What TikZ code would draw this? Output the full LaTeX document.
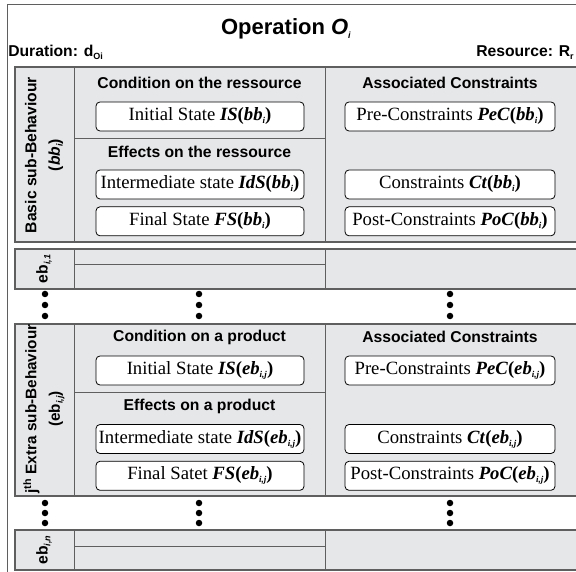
\documentclass[tikz,border=0pt]{standalone}
\usepackage{fontspec}
\setmainfont{Liberation Serif}
\setsansfont{Liberation Sans}
\usepackage{tikz}
\usetikzlibrary{positioning}
\definecolor{blockgray}{RGB}{230,231,233}
\definecolor{linegray}{RGB}{95,95,95}

\newcommand{\titlefont}{\sffamily\bfseries\fontsize{22}{24}\selectfont}
\newcommand{\headfont}{\sffamily\bfseries\fontsize{15.7}{23.5}\selectfont}
\newcommand{\boxfont}{\rmfamily\fontsize{18.7}{20}\selectfont}
\newcommand{\lowidx}[1]{\raisebox{-0.35ex}{\fontsize{9}{9}\selectfont #1}}
\newcommand{\bfit}[1]{\textbf{\textit{#1}}}
\newcommand{\stterm}[3]{\bfit{#1}\textbf{(}\bfit{#2}\lowidx{\bfit{#3}}\textbf{)}}

\begin{document}
\begin{tikzpicture}[
            x = 1pt, y = -1pt, % pixel grid, y going down
            node distance = 7pt,
            semithick
        ]

        \tikzstyle{block}=[
            draw = linegray,
            fill = blockgray,
            line width = 1.1pt
        ]
        \tikzstyle{divider}=[
            draw = linegray,
            line width = 0.9pt
        ]
        \tikzstyle{statebox}=[
            draw,
            fill = white,
            rounded corners = 4pt,
            line width = 0.8pt,
            minimum width = 208pt,
            minimum height = 29pt,
            inner sep = 0pt,
            font = \boxfont
        ]
        \tikzstyle{heading}=[font = \headfont, inner sep = 0pt]
        \tikzstyle{sidelabel}=[rotate = 90, align = center, font = \headfont, inner sep = 0pt]
        \tikzstyle{dot}=[circle, fill, inner sep = 0pt, minimum size = 6.5pt]

        \clip (0,0) rectangle (576,572);

        % outer frame
        \draw[linegray, line width = 0.8pt] (7,4) rectangle (585,580);

        \node[font = \titlefont] (title) at (286,29) {Operation \textit{O}\lowidx{\textit{i}}};
        \node[heading, anchor = base west] (dur) at (8,57) {Duration: d\lowidx{Oi}};
        \node[heading, anchor = base east] (res) at (574,57) {Resource: R\lowidx{r}};

        % basic sub-behaviour
        \draw[block] (15,67) rectangle (578,242);
        \draw[divider] (74,67) -- (74,242);
        \draw[divider] (325,67) -- (325,242);
        \draw[divider] (74,138) -- (325,138);

        \node[sidelabel] (bbl) at (44,155) {Basic sub-Behaviour\\(\textit{bb}\lowidx{\textit{i}})};

        \node[heading] (CR) at (199.5,83) {Condition on the ressource};
        \node[statebox] (ISb) at (200,116.5) {Initial State \stterm{IS}{bb}{i}};
        \node[heading] (ER) at (199.5,152) {Effects on the ressource};
        \node[statebox] (IdSb) at (200,184.5) {Intermediate state \stterm{IdS}{bb}{i}};
        \node[statebox] (FSb) [below = of IdSb] {Final State \stterm{FS}{bb}{i}};

        \node[heading] (ACb) at (450,83) {Associated Constraints};
        \node[statebox, minimum width = 210pt] (PeCb) at (450,116.5) {Pre-Constraints \stterm{PeC}{bb}{i}};
        \node[statebox, minimum width = 210pt] (Ctb) at (450,184.5) {Constraints \stterm{Ct}{bb}{i}};
        \node[statebox, minimum width = 210pt] (PoCb) [below = of Ctb] {Post-Constraints \stterm{PoC}{bb}{i}};

        % first extra sub-behaviour
        \draw[block] (15,249) rectangle (578,289);
        \draw[divider] (74,249) -- (74,289);
        \draw[divider] (325,249) -- (325,289);
        \draw[divider] (74,264) -- (325,264);
        \node[sidelabel] (eb1) at (44,269) {eb\lowidx{\textit{i,1}}};

        % dots
        \foreach \x in {45,199,450}
            \foreach \y in {294,305,316,503,513,523}
                \node[dot] (dot-\x-\y) at (\x,\y) {};

        % j-th extra sub-behaviour
        \draw[block] (15,324) rectangle (578,496);
        \draw[divider] (74,324) -- (74,496);
        \draw[divider] (325,324) -- (325,496);
        \draw[divider] (74,392) -- (325,392);

        \node[sidelabel, font = \sffamily\bfseries\fontsize{15.3}{23.5}\selectfont] (ebl) at (44,409)
            {j\textsuperscript{th} Extra sub-Behaviour\\(eb\lowidx{\textit{i,j}})};

        \node[heading] (CP) at (199.5,337) {Condition on a product};
        \node[statebox] (ISe) at (200,370.5) {Initial State \stterm{IS}{eb}{i,j}};
        \node[heading] (EP) at (199.5,406) {Effects on a product};
        \node[statebox] (IdSe) at (200,439) {Intermediate state \stterm{IdS}{eb}{i,j}};
        \node[statebox] (FSe) [below = of IdSe] {Final Satet \stterm{FS}{eb}{i,j}};

        \node[heading] (ACe) at (450,337) {Associated Constraints};
        \node[statebox, minimum width = 210pt] (PeCe) at (450,370.5) {Pre-Constraints \stterm{PeC}{eb}{i,j}};
        \node[statebox, minimum width = 210pt] (Cte) at (450,439) {Constraints \stterm{Ct}{eb}{i,j}};
        \node[statebox, minimum width = 210pt] (PoCe) [below = of Cte] {Post-Constraints \stterm{PoC}{eb}{i,j}};

        % last extra sub-behaviour
        \draw[block] (15,530) rectangle (578,570);
        \draw[divider] (74,530) -- (74,570);
        \draw[divider] (325,530) -- (325,570);
        \draw[divider] (74,546) -- (325,546);
        \node[sidelabel] (ebn) at (44,550) {eb\lowidx{\textit{i,n}}};

  \end{tikzpicture}
\end{document}
